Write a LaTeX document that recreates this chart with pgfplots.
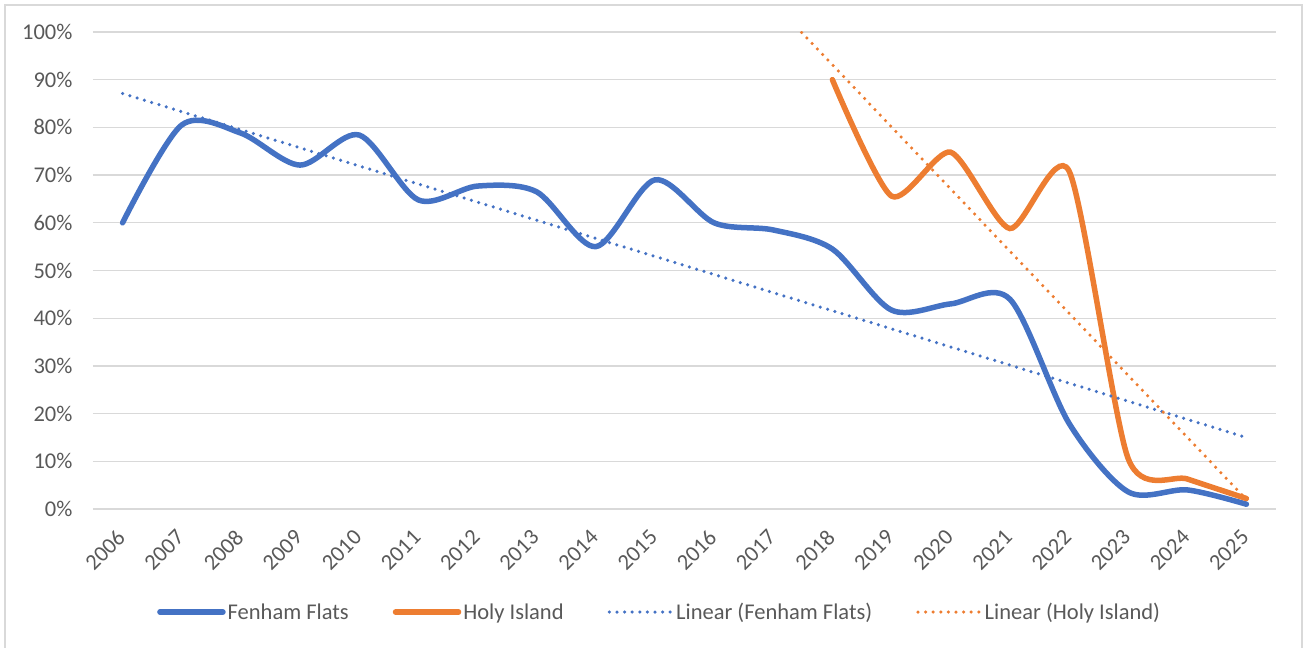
\documentclass[border=0pt]{standalone}
\usepackage{fontspec}
\setmainfont{Carlito}
\usepackage{pgfplots}
\pgfplotsset{compat=1.18}
\definecolor{fblue}{HTML}{4472C4}
\definecolor{horange}{HTML}{ED7D31}
\definecolor{gridc}{HTML}{D9D9D9}
\definecolor{txt}{HTML}{595959}
\begin{document}
\begin{tikzpicture}[x=1pt,y=1pt]
\path[use as bounding box] (0,0) rectangle (1307,648);
\draw[gridc, line width=1.5pt] (5,-5) -- (5,643) -- (1302,643) -- (1302,-5);
\begin{axis}[
  at={(93pt,139pt)}, anchor=south west,
  scale only axis, width=1183pt, height=477pt,
  xmin=2005.5, xmax=2025.5, ymin=0, ymax=100,
  xtick={2006,2007,2008,2009,2010,2011,2012,2013,2014,2015,2016,2017,2018,2019,2020,2021,2022,2023,2024,2025},
  ytick={0,10,20,30,40,50,60,70,80,90,100},
  /pgf/number format/assume math mode=true,
  /pgf/number format/1000 sep={},
  yticklabel={\pgfmathprintnumber{\tick}\%},
  ymajorgrids,
  major grid style={gridc, line width=1.3pt},
  axis line style={draw=none},
  major tick style={draw=none},
  tick label style={font=\fontsize{22.5}{26}\selectfont, text=txt},
  yticklabel style={xshift=-17pt},
  xticklabel style={rotate=45, anchor=east, xshift=-15pt, yshift=-16.5pt},
  legend style={at={(0.479,-0.216)}, anchor=center, draw=none, fill=none,
    font=\fontsize{22.5}{26}\selectfont, text=txt,
    /tikz/every even column/.append style={column sep=42pt}},
  legend columns=4,
  legend cell align=left,
  legend image code/.code={\draw[#1] (0pt,0pt) -- (63pt,0pt);},
]
\addplot[fblue, line width=5.5pt, line cap=round, smooth, tension=0.5] coordinates {
(2006,60) (2007,80.5) (2008,78.8) (2009,72.1) (2010,78.4) (2011,64.8) (2012,67.7)
(2013,66.5) (2014,55) (2015,69) (2016,60) (2017,58.5) (2018,54.5) (2019,41.7)
(2020,43) (2021,44) (2022,18) (2023,3.6) (2024,4) (2025,1)};
\addlegendentry{Fenham Flats}
\addplot[horange, line width=5.5pt, line cap=round, smooth, tension=0.42] coordinates {
(2018,90) (2019,65.6) (2020,74.8) (2021,58.8) (2022,70.9) (2023,10.6) (2024,6.3) (2025,2.2)};
\addlegendentry{Holy Island}
\addplot[fblue, line width=3.5pt, line cap=round, dash pattern=on 0pt off 7.6pt] coordinates {
(2006,87.1) (2025,15.0)};
\addlegendentry{Linear (Fenham Flats)}
\addplot[horange, line width=3.5pt, line cap=round, dash pattern=on 0pt off 7.6pt] coordinates {
(2017.48,99.9) (2025,2.0)};
\addlegendentry{Linear (Holy Island)}
\end{axis}
\end{tikzpicture}
\end{document}
